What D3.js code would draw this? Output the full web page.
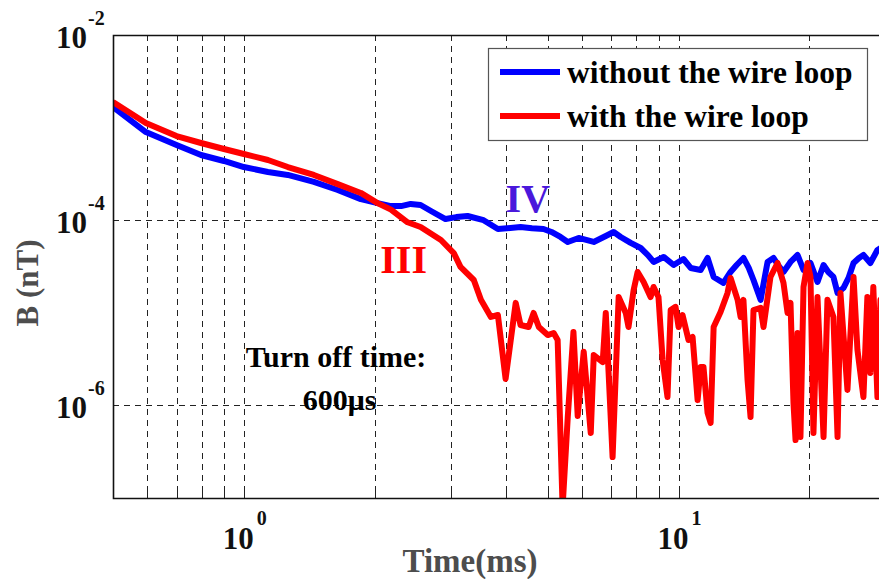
<!DOCTYPE html>
<html>
<head>
<meta charset="utf-8">
<script src="https://cdn.jsdelivr.net/npm/d3@7"></script>
<style>
  html, body { margin: 0; padding: 0; background: #fff; }
  svg { display: block; }
  text { font-family: "Liberation Serif", "Times New Roman", serif; font-weight: bold; }
</style>
</head>
<body>
<div id="chart"></div>
<script>
// time (ms) and field (nT)
var tBlue = [0.50, 0.595, 0.70, 0.797, 0.90, 1.00, 1.136, 1.262, 1.449, 1.644, 1.858, 2.03, 2.18, 2.30, 2.42, 2.55, 2.70, 2.91, 3.08, 3.27,
    3.56, 3.84, 4.10, 4.33, 4.60, 4.89, 5.10, 5.35, 5.56, 5.89, 6.38, 6.80, 7.09, 7.36, 7.76, 8.18, 8.50, 8.76, 9.24, 9.74,
    10.26, 10.66, 11.24, 11.66, 12.04, 12.68, 13.17, 13.60, 14.10, 14.50, 14.87, 15.44, 16.02, 16.53, 17.00, 17.43, 18.09, 18.78, 19.38, 20.11,
    20.87, 21.55, 22.10, 22.71, 23.21, 23.94, 24.60, 25.26, 26.00, 26.62, 27.61, 28.67, 30.0];
var bBlue = [1.67e-3, 8.96e-4, 6.49e-4, 5.06e-4, 4.36e-4, 3.75e-4, 3.32e-4, 3.08e-4, 2.59e-4, 2.12e-4, 1.69e-4, 1.53e-4, 1.42e-4, 1.42e-4, 1.50e-4, 1.46e-4, 1.25e-4, 1.03e-4, 1.08e-4, 1.11e-4,
    1.00e-4, 8.04e-5, 8.24e-5, 8.45e-5, 8.2e-5, 8.04e-5, 7.46e-5, 6.59e-5, 5.82e-5, 6.43e-5, 5.82e-5, 6.75e-5, 7.46e-5, 6.59e-5, 5.68e-5, 5.01e-5, 4.2e-5, 3.54e-5, 4.01e-5, 3.28e-5,
    3.81e-5, 3.05e-5, 2.90e-5, 3.91e-5, 2.44e-5, 2.10e-5, 2.76e-5, 3.28e-5, 3.91e-5, 3.05e-5, 2.26e-5, 1.38e-5, 3.54e-5, 3.91e-5, 3.2e-5, 2.76e-5, 3.54e-5, 4.21e-5, 2.90e-5, 3.45e-5,
    2.15e-5, 3.28e-5, 2.76e-5, 2.44e-5, 1.64e-5, 1.85e-5, 2.38e-5, 3.45e-5, 3.91e-5, 4.21e-5, 3.45e-5, 4.77e-5, 5.4e-5];

var tRed = [0.50, 0.595, 0.70, 0.797, 0.90, 1.00, 1.136, 1.262, 1.449, 1.644, 1.858, 2.03, 2.18, 2.38, 2.55, 2.84, 3.04, 3.15, 3.38, 3.51,
    3.70, 3.84, 4.00, 4.22, 4.33, 4.52, 4.64, 4.77, 5.00, 5.16, 5.27, 5.41, 5.56, 5.73, 5.86, 6.05, 6.28, 6.38, 6.69, 6.80,
    7.05, 7.28, 7.56, 7.67, 7.88, 8.05, 8.31, 8.62, 8.76, 8.99, 9.19, 9.43, 9.59, 9.84, 10.0, 10.21, 10.54, 10.77, 11.06, 11.24,
    11.41, 11.66, 11.85, 12.04, 12.49, 12.96, 13.17, 13.67, 13.89, 14.10, 14.41, 14.64, 14.87, 15.44, 15.68, 16.27, 16.89, 17.43, 17.81, 18.09,
    18.38, 18.58, 18.78, 19.07, 19.38, 19.80, 20.11, 20.43, 20.87, 21.55, 22.00, 22.71, 23.21, 23.57, 24.46, 25.26, 25.79, 26.62, 27.18, 27.61,
    28.05, 28.67, 29.13, 30.0];
var bRed = [1.89e-3, 1.12e-3, 8.11e-4, 6.82e-4, 5.87e-4, 5.19e-4, 4.47e-4, 3.75e-4, 3.08e-4, 2.45e-4, 1.97e-4, 1.53e-4, 1.30e-4, 9.5e-5, 8.45e-5, 6.11e-5, 4.42e-5, 3.13e-5, 2.26e-5, 1.38e-5,
    9.02e-6, 9.47e-6, 1.93e-6, 1.28e-5, 7.38e-6, 7.03e-6, 9.96e-6, 7.03e-6, 5.75e-6, 6.05e-6, 5.08e-6, 8e-8, 7.5e-7, 6.2e-6, 7.7e-7, 3.8e-6, 5.03e-7, 3.5e-6, 2.94e-6, 9.96e-6,
    2.77e-7, 1.48e-5, 9.96e-6, 7.03e-6, 1.76e-5, 2.76e-5, 2.15e-5, 1.48e-5, 1.90e-5, 1.48e-5, 3.09e-6, 1.23e-6, 1.07e-5, 1.16e-5, 7.03e-6, 9.47e-6, 5.08e-6, 5.48e-6, 1.14e-6, 2.60e-6,
    2.60e-6, 8.28e-7, 6.46e-7, 7.03e-6, 1.02e-5, 1.64e-5, 2.38e-5, 1.38e-5, 9.02e-6, 1.38e-5, 1.88e-6, 7.5e-7, 1.07e-5, 1.13e-5, 7.03e-6, 2.44e-5, 3.45e-5, 2.10e-5, 9.96e-6, 1.28e-5,
    1.06e-6, 4.23e-7, 6.05e-6, 4.56e-7, 1.90e-5, 3.45e-5, 2.44e-5, 5.03e-7, 1.48e-5, 4.56e-7, 1.38e-5, 9.02e-6, 4.56e-7, 1.64e-5, 1.47e-6, 2.44e-5, 3.97e-6, 1.23e-6, 1.48e-5, 2.24e-6,
    1.90e-5, 1.23e-6, 1.38e-5, 6.5e-6];

var seriesNames = ["without the wire loop", "with the wire loop"];
var seriesColors = ["#0000ff", "#ff0000"];

var xTicksMajor = [1, 10];
var xGrid = [0.6, 0.7, 0.8, 0.9, 1, 2, 3, 4, 5, 6, 7, 8, 9, 10, 20, 30];
var yTicks = [1e-2, 1e-4, 1e-6];
var xDomain = [0.5, 30];
var yDomain = [1e-7, 1e-2];

var width = 879, height = 579;
var margin = {left: 113, top: 35, bottom: 498, right: 886};

var svg = d3.select("#chart").append("svg")
    .attr("width", width)
    .attr("height", height);

var x = d3.scaleLog().domain(xDomain).range([margin.left, margin.right]);
var y = d3.scaleLog().domain(yDomain).range([margin.bottom, margin.top]);

svg.append("clipPath").attr("id", "plotclip")
    .append("rect")
    .attr("x", margin.left).attr("y", margin.top)
    .attr("width", margin.right - margin.left).attr("height", margin.bottom - margin.top);

// grid
var grid = svg.append("g")
    .attr("stroke", "#222")
    .attr("stroke-width", 1)
    .attr("stroke-dasharray", "6,5");

grid.selectAll("line.vx")
    .data(xGrid)
    .enter().append("line")
    .attr("x1", d => Math.round(x(d)) + 0.5).attr("x2", d => Math.round(x(d)) + 0.5)
    .attr("y1", margin.top).attr("y2", margin.bottom);

grid.selectAll("line.hy")
    .data(yTicks.filter(d => d < 1e-2))
    .enter().append("line")
    .attr("y1", d => Math.round(y(d)) + 0.5).attr("y2", d => Math.round(y(d)) + 0.5)
    .attr("x1", margin.left).attr("x2", margin.right);

// small inward ticks on bottom axis
svg.append("g").selectAll("line")
    .data(xGrid)
    .enter().append("line")
    .attr("x1", d => Math.round(x(d)) + 0.5).attr("x2", d => Math.round(x(d)) + 0.5)
    .attr("y1", margin.bottom).attr("y2", margin.bottom - 6)
    .attr("stroke", "#222");

// curves
var line = d3.line()
    .x(d => x(d[0]))
    .y(d => y(d[1]));

var curves = svg.append("g").attr("clip-path", "url(#plotclip)");

curves.append("path")
    .datum(d3.zip(tBlue, bBlue))
    .attr("fill", "none")
    .attr("stroke", seriesColors[0])
    .attr("stroke-width", 6)
    .attr("stroke-linejoin", "round")
    .attr("d", line);

curves.append("path")
    .datum(d3.zip(tRed, bRed))
    .attr("fill", "none")
    .attr("stroke", seriesColors[1])
    .attr("stroke-width", 6)
    .attr("stroke-linejoin", "round")
    .attr("d", line);

// axes box
svg.append("path")
    .attr("d", `M${margin.right},${margin.top + 0.5}H${margin.left + 0.5}V${margin.bottom + 0.5}H${margin.right}`)
    .attr("fill", "none")
    .attr("stroke", "#111")
    .attr("stroke-width", 1.6);

// tick labels
var xl = svg.append("g");
xTicksMajor.forEach(function (d) {
    var px = x(d);
    xl.append("text").attr("x", px + 10).attr("y", 549)
        .attr("text-anchor", "end").attr("font-size", 31).attr("fill", "#111").text("10");
    xl.append("text").attr("x", px + 13).attr("y", 525)
        .attr("font-size", 20).attr("fill", "#111").text(Math.round(Math.log10(d)));
});

var yl = svg.append("g");
yTicks.forEach(function (d) {
    var py = y(d);
    yl.append("text").attr("x", 87).attr("y", py + 13)
        .attr("text-anchor", "end").attr("font-size", 31).attr("fill", "#111").text("10");
    yl.append("text").attr("x", 88).attr("y", py - 10)
        .attr("font-size", 20).attr("fill", "#111").text(Math.round(Math.log10(d)));
});

// axis titles
svg.append("text")
    .attr("x", 470).attr("y", 572)
    .attr("text-anchor", "middle")
    .attr("font-size", 33)
    .attr("fill", "#4d4d4d")
    .text("Time(ms)");

svg.append("text")
    .attr("transform", "translate(38,283) rotate(-90)")
    .attr("text-anchor", "middle")
    .attr("font-size", 31)
    .attr("fill", "#4d4d4d")
    .text("B (nT)");

// annotations (placed in data coordinates)
svg.append("text")
    .attr("x", x(4.0)).attr("y", y(1.23e-4))
    .attr("font-size", 40).attr("fill", "#4a18dc")
    .text("IV");

svg.append("text")
    .attr("x", x(2.06)).attr("y", y(2.69e-5))
    .attr("font-size", 40).attr("fill", "#ff0000")
    .text("III");

svg.append("text")
    .attr("x", x(1.01)).attr("y", y(2.6e-6))
    .attr("font-size", 30).attr("fill", "#000")
    .text("Turn off time:");

svg.append("text")
    .attr("x", x(1.366)).attr("y", y(8.9e-7))
    .attr("font-size", 30).attr("fill", "#000")
    .text("600μs");

// legend
var legend = svg.append("g");
legend.append("rect")
    .attr("x", 488.5).attr("y", 48.5)
    .attr("width", 379).attr("height", 92)
    .attr("fill", "#fff")
    .attr("stroke", "#555")
    .attr("stroke-width", 1.2);

seriesNames.forEach(function (name, i) {
    var ly = 72 + i * 44;
    legend.append("line")
        .attr("x1", 500).attr("x2", 560)
        .attr("y1", ly).attr("y2", ly)
        .attr("stroke", seriesColors[i])
        .attr("stroke-width", 6);
    legend.append("text")
        .attr("x", 567).attr("y", ly + 11)
        .attr("font-size", 31.5)
        .attr("fill", "#000")
        .text(name);
});
</script>
</body>
</html>
